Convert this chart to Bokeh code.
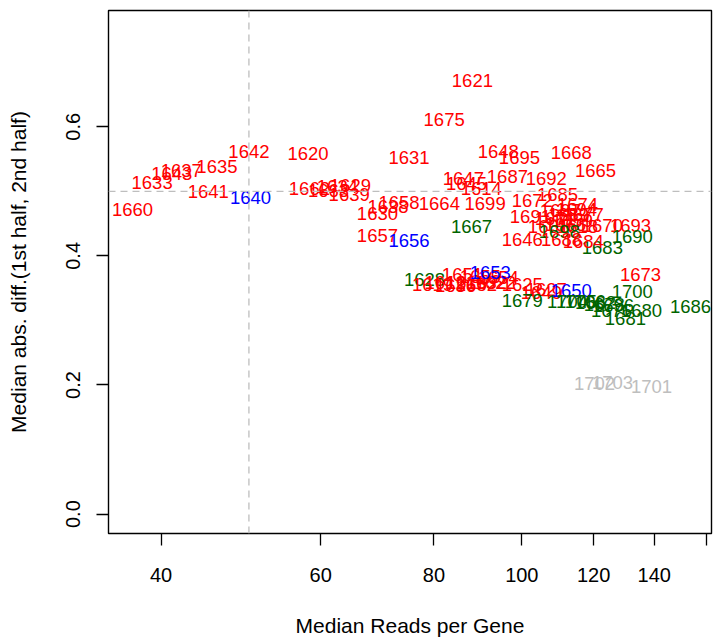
from bokeh.plotting import figure
from bokeh.models import ColumnDataSource, Range1d, FixedTicker, Span, CustomJSTickFormatter, NumeralTickFormatter
from bokeh.core.properties import value
from bokeh.embed import file_html
from bokeh.resources import INLINE

# Sample ids, median reads per gene (x, log scale), median abs. diff (y), and group
ids = ["1621", "1675", "1648", "1695", "1668", "1665", "1687", "1692", "1647", "1645",
       "1614", "1642", "1620", "1635", "1637", "1643", "1633", "1641", "1640", "1660",
       "1662", "1663", "1634", "1629", "1639", "1631", "1658", "1664", "1630", "1638",
       "1657", "1656", "1667", "1699", "1646", "1672", "1685", "1674", "1691",
       "1697", "1689", "1659", "1666", "1618", "1677", "1694", "1671",
       "1661", "1698", "1670", "1693", "1690", "1683", "1684", "1688",
       "1628", "1619", "1612", "1636", "1613", "1652", "1632", "1622", "1651", "1654",
       "1655", "1653", "1625", "1649", "1627", "1650", "1679",
       "1704", "1705", "1706", "1682", "1678", "1696", "1676",
       "1700", "1680", "1681", "1686", "1673", "1702", "1703", "1701"]
reads = [88.2, 82.1, 94.2, 99.4, 113.4, 120.6, 96.4, 106.4, 86.2, 86.9,
         90.2, 50.0, 58.1, 46.1, 42.1, 41.1, 39.1, 45.1, 50.2, 37.2,
         58.3, 61.2, 62.6, 64.7, 64.5, 75.1, 73.2, 81.1, 69.3, 71.2,
         69.3, 75.1, 88.0, 91.1, 100.1, 102.7, 109.5, 115.2, 102.2,
         110.3, 112.6, 113.7, 111.7, 115.2, 116.9, 114.9, 108.9,
         107.0, 110.0, 122.7, 131.8, 132.4, 122.7, 116.9, 110.6,
         78.1, 79.7, 82.3, 84.5, 86.9, 89.1, 91.4, 93.5, 86.0, 94.2,
         90.0, 92.3, 100.1, 105.1, 106.4, 113.4, 100.1,
         112.3, 114.9, 117.5, 120.6, 123.3, 126.2, 125.6,
         132.4, 135.5, 130.1, 153.5, 135.2, 120.3, 125.9, 139.0]
mad = [0.671, 0.611, 0.5615, 0.552, 0.560, 0.532, 0.523, 0.520, 0.520, 0.512,
       0.504, 0.5615, 0.558, 0.538, 0.532, 0.5275, 0.5137, 0.4998, 0.4905, 0.472,
       0.504, 0.501, 0.5075, 0.509, 0.495, 0.552, 0.483, 0.481, 0.466, 0.4766,
       0.432, 0.424, 0.446, 0.481, 0.4257, 0.486, 0.495, 0.4797, 0.461,
       0.4705, 0.4643, 0.455, 0.449, 0.4458, 0.4643, 0.472, 0.458,
       0.4458, 0.438, 0.4473, 0.4473, 0.430, 0.4134, 0.4226, 0.4257,
       0.364, 0.3563, 0.358, 0.3548, 0.3594, 0.3563, 0.3594, 0.358, 0.3717, 0.367,
       0.3687, 0.3748, 0.3563, 0.344, 0.3486, 0.347, 0.3316,
       0.330, 0.3286, 0.330, 0.327, 0.324, 0.3224, 0.3147,
       0.3455, 0.3147, 0.3023, 0.3208, 0.3717, 0.202, 0.2036, 0.1974]
group = ["A"] * 18 + ["B"] + ["A"] * 12 + ["B"] + ["C"] + ["A"] * 6 + \
        ["A"] * 8 + ["A", "C", "A", "A", "C", "C", "A", "A"] + \
        ["C"] + ["A"] * 10 + ["B"] + ["A"] * 3 + ["B"] + ["C"] + \
        ["C"] * 7 + ["C", "C", "C", "C", "A", "D", "D", "D"]

group_colors = {"A": "#FF0000", "B": "#0000FF", "C": "#006400", "D": "#BEBEBE"}

x_ticks = [40, 60, 80, 100, 120, 140, 160]
y_ticks = [0.0, 0.2, 0.4, 0.6]
x_cut = 50
y_cut = 0.5

src = ColumnDataSource(dict(x=reads, y=mad, label=ids,
                            color=[group_colors[g] for g in group]))

FONT = "Liberation Sans"

p = figure(width=713, height=639, x_axis_type="log",
           x_range=Range1d(35.0, 161.9), y_range=Range1d(-0.03, 0.78),
           output_backend="svg", toolbar_location=None,
           x_axis_label="Median Reads per Gene",
           y_axis_label="Median abs. diff.(1st half, 2nd half)",
           min_border_left=108, min_border_top=10, min_border_right=2, min_border_bottom=106)

p.xgrid.visible = False
p.ygrid.visible = False
p.outline_line_color = "black"
p.outline_line_width = 1.4
p.background_fill_color = "white"
p.border_fill_color = "white"

p.add_layout(Span(location=x_cut, dimension="height", line_color="#BEBEBE",
                  line_dash="7 5", line_width=1.3))
p.add_layout(Span(location=y_cut, dimension="width", line_color="#BEBEBE",
                  line_dash="7 5", line_width=1.3))

p.text(x="x", y="y", text="label", text_color="color", source=src,
       text_align="center", text_baseline="middle",
       text_font=value(FONT), text_font_size="18.5px")

p.xaxis.ticker = FixedTicker(ticks=x_ticks)
p.xaxis.formatter = CustomJSTickFormatter(code="return tick > 150 ? '' : tick.toFixed(0);")
p.yaxis.ticker = FixedTicker(ticks=y_ticks)
p.yaxis.formatter = NumeralTickFormatter(format="0.0")
p.yaxis.major_label_orientation = "vertical"

for ax in (p.xaxis, p.yaxis):
    ax.axis_line_color = None
    ax.major_tick_out = 12
    ax.major_tick_in = 0
    ax.major_tick_line_width = 1.3
    ax.major_tick_line_color = "black"
    ax.minor_tick_line_color = None
    ax.major_label_text_font = FONT
    ax.major_label_text_font_size = "20px"
    ax.major_label_text_color = "black"
    ax.axis_label_text_font = FONT
    ax.axis_label_text_font_size = "21px"
    ax.axis_label_text_font_style = "normal"
    ax.axis_label_text_color = "black"

p.xaxis.major_label_standoff = 22
p.xaxis.axis_label_standoff = 29
p.yaxis.major_label_standoff = 16
p.yaxis.axis_label_standoff = 34

open("out.html", "w").write(file_html(p, INLINE))
